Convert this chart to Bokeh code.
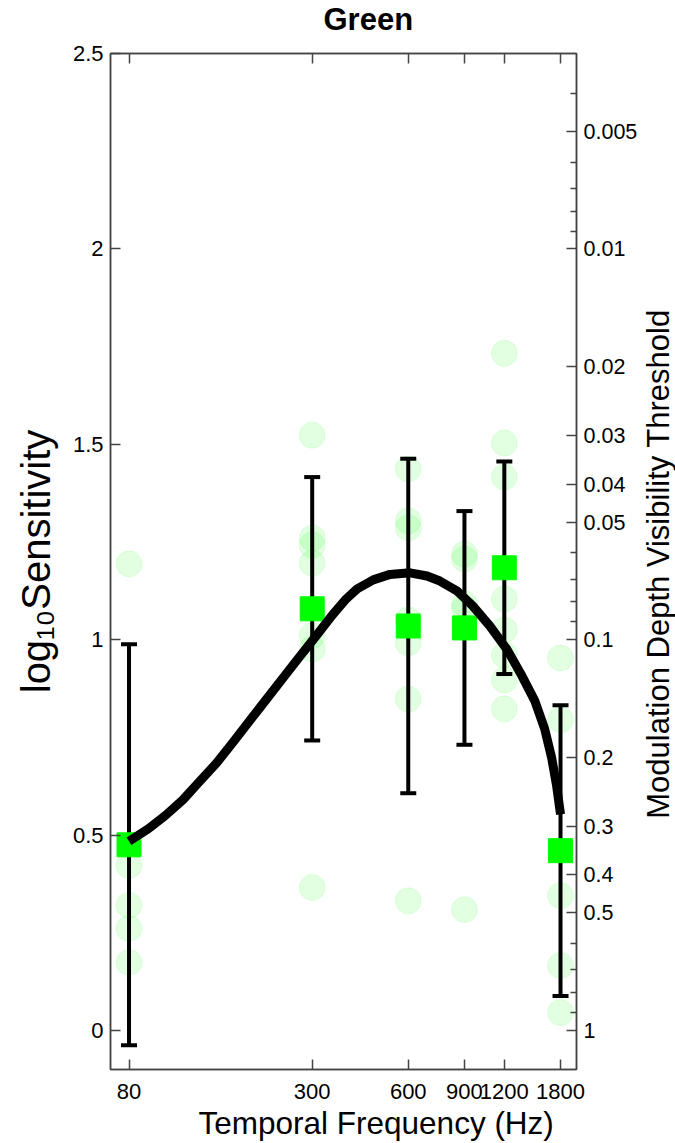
import math
from bokeh.plotting import figure
from bokeh.layouts import row
from bokeh.models import (FixedTicker, LinearAxis, LogAxis, Range1d,
                          BasicTickFormatter, Title, Label)
from bokeh.embed import file_html
from bokeh.resources import INLINE

# ---------------- data ----------------
freq = [80, 300, 600, 900, 1200, 1800]
freq_labels = ["80", "300", "600", "900", "1200", "1800"]

mean_sens = [0.475, 1.079, 1.035, 1.030, 1.184, 0.460]
sd_sens = [0.513, 0.337, 0.428, 0.299, 0.272, 0.372]

# individual observers (log10 sensitivity)
obs_80 = [1.194, 0.422, 0.320, 0.261, 0.174]
obs_300 = [1.523, 1.260, 1.242, 1.196, 1.010, 0.976, 0.366]
obs_600 = [1.437, 1.304, 1.286, 1.050, 0.992, 0.848, 0.332]
obs_900 = [1.219, 1.206, 1.092, 1.079, 0.309]
obs_1200 = [1.733, 1.503, 1.416, 1.104, 1.025, 0.961, 0.897, 0.823]
obs_1800 = [0.953, 0.795, 0.345, 0.166, 0.046]

# fitted curve, points
curve_freq = [80, 92, 104, 118, 132, 150, 169, 190, 214, 242, 272, 307, 347, 381, 415,
              466, 526, 608, 687, 754, 852, 956, 1081, 1221, 1351, 1494, 1605, 1688,
              1750, 1800]
curve_sens = [0.484, 0.516, 0.550, 0.590, 0.634, 0.683, 0.736, 0.790, 0.844, 0.900,
              0.953, 1.007, 1.063, 1.102, 1.130, 1.153, 1.167, 1.171, 1.163, 1.150,
              1.125, 1.086, 1.035, 0.976, 0.913, 0.844, 0.772, 0.698, 0.626, 0.553]

left_ticks = [0, 0.5, 1, 1.5, 2, 2.5]
left_labels = ["0", "0.5", "1", "1.5", "2", "2.5"]

threshold_ticks = [0.005, 0.01, 0.02, 0.03, 0.04, 0.05, 0.1, 0.2, 0.3, 0.4, 0.5, 1]
threshold_labels = ["0.005", "0.01", "0.02", "0.03", "0.04", "0.05", "0.1", "0.2", "0.3",
                    "0.4", "0.5", "1"]
threshold_minor = [0.004, 0.006, 0.007, 0.008, 0.009, 0.06, 0.07, 0.08, 0.09,
                   0.6, 0.7, 0.8, 0.9]

title_text = "Green"
x_title = "Temporal Frequency (Hz)"
y_title = "log\u2081\u2080Sensitivity"
y2_title = "Modulation Depth Visibility Threshold"

# ---------------- styles ----------------
FONT = "Liberation Sans"
AXC = "#444444"
TICK_FS = "22px"
NBSP = "\u00a0"
MAIN_W = 640
SIDE_W = 675 - MAIN_W
H = 1143


def style_axis(ax):
    ax.major_tick_in = 10
    ax.major_tick_out = 0
    ax.minor_tick_in = 6
    ax.minor_tick_out = 0
    ax.axis_line_color = AXC
    ax.axis_line_width = 1.5
    ax.major_tick_line_color = AXC
    ax.major_tick_line_width = 1.5
    ax.minor_tick_line_color = AXC
    ax.minor_tick_line_width = 1.5
    ax.major_label_text_font = FONT
    ax.major_label_text_font_size = TICK_FS
    ax.major_label_text_color = "black"
    ax.axis_label_text_font = FONT
    ax.axis_label_text_font_style = "normal"
    ax.axis_label_text_color = "black"


obs_freq = ([80] * len(obs_80) + [300] * len(obs_300) + [600] * len(obs_600) +
            [900] * len(obs_900) + [1200] * len(obs_1200) + [1800] * len(obs_1800))
obs_vals = obs_80 + obs_300 + obs_600 + obs_900 + obs_1200 + obs_1800

upper = [m + s for m, s in zip(mean_sens, sd_sens)]
lower = [m - s for m, s in zip(mean_sens, sd_sens)]

p = figure(width=MAIN_W, height=H, x_axis_type="log",
           x_range=Range1d(70, 2020), y_range=Range1d(-0.1, 2.5),
           output_backend="svg", toolbar_location=None,
           min_border_left=110, min_border_right=63,
           min_border_top=52, min_border_bottom=74)
p.grid.visible = False
p.background_fill_color = "white"
p.border_fill_color = "white"
p.outline_line_color = AXC
p.outline_line_width = 1.5

# title
p.title.text = title_text
p.title.align = "left"
p.title.offset = 213
p.title.standoff = 0
p.title.vertical_align = "middle"
p.title.text_font = FONT
p.title.text_font_size = "31px"
p.title.text_font_style = "bold"
p.title.text_color = "black"

# bottom axis
xa = p.xaxis[0]
xa.ticker = FixedTicker(ticks=freq)
xa.formatter = BasicTickFormatter()
xa.major_label_overrides = {f: l for f, l in zip(freq, freq_labels)}
style_axis(xa)
xa.minor_tick_line_color = None
xa.major_label_standoff = 14

# bottom axis title (shifted right as in the original)
xt = Title(text=x_title, align="left", offset=88, standoff=4, vertical_align="middle",
           text_font=FONT, text_font_size="31.5px", text_font_style="normal",
           text_color="black")
p.add_layout(xt, "below")

# top axis (ticks only); a blank spacer label keeps the title clear of the frame
ta = LogAxis(ticker=FixedTicker(ticks=freq))
style_axis(ta)
ta.minor_tick_line_color = None
ta.major_label_text_font_size = "2px"
ta.major_label_text_color = None
ta.axis_label = NBSP
ta.axis_label_text_font_size = "2px"
ta.axis_label_standoff = 11
p.add_layout(ta, "above")

# left axis
ya = p.yaxis[0]
ya.ticker = FixedTicker(ticks=left_ticks)
ya.major_label_overrides = {t: l for t, l in zip(left_ticks, left_labels)}
style_axis(ya)
ya.minor_tick_line_color = None
ya.major_label_standoff = 7
ya.axis_label = y_title
ya.axis_label_text_font_size = "40px"
ya.axis_label_standoff = 12

# right axis: modulation depth threshold = 10^-sensitivity
r_ticks = [-math.log10(t) for t in threshold_ticks]
r_minor = [-math.log10(t) for t in threshold_minor]
ra = LinearAxis(ticker=FixedTicker(ticks=r_ticks, minor_ticks=r_minor))
ra.major_label_overrides = {t: l for t, l in zip(r_ticks, threshold_labels)}
style_axis(ra)
ra.major_label_text_font_size = "21.5px"
ra.major_label_standoff = 7
p.add_layout(ra, "right")

# individual observers
p.scatter(obs_freq, obs_vals, size=26, marker="circle",
          fill_color="#22ff22", fill_alpha=0.13,
          line_color="#22ff22", line_alpha=0.10)

# error bars
p.segment(x0=freq, y0=lower, x1=freq, y1=upper, line_color="black", line_width=4)
p.scatter(freq, upper, marker="dash", size=16, line_color="black", line_width=4)
p.scatter(freq, lower, marker="dash", size=16, line_color="black", line_width=4)

# means
p.scatter(freq, mean_sens, marker="square", size=24,
          fill_color="#00ff00", line_color="#00ff00")

# fitted curve
p.line(curve_freq, curve_sens, line_color="black", line_width=9, line_join="round")

# narrow side panel carrying the right-hand axis title
# (its frame is aligned with the main frame: top 52 px, bottom 1069 px)
p2 = figure(width=SIDE_W, height=H, x_range=Range1d(0, 1), y_range=Range1d(0, 1),
            output_backend="svg", toolbar_location=None,
            x_axis_location=None, y_axis_location=None,
            min_border_left=0, min_border_right=0, min_border_top=0, min_border_bottom=0)
p2.grid.visible = False
p2.outline_line_color = None
p2.background_fill_color = "white"
p2.border_fill_color = "white"
p2.add_layout(Label(x=17.5, y=505.5, x_units="screen", y_units="screen",
                    text=y2_title, angle=math.pi / 2,
                    text_font=FONT, text_font_size="31px", text_color="black",
                    text_align="center", text_baseline="middle"))

layout = row(p, p2, spacing=0)

open("out.html", "w").write(file_html(layout, INLINE))
